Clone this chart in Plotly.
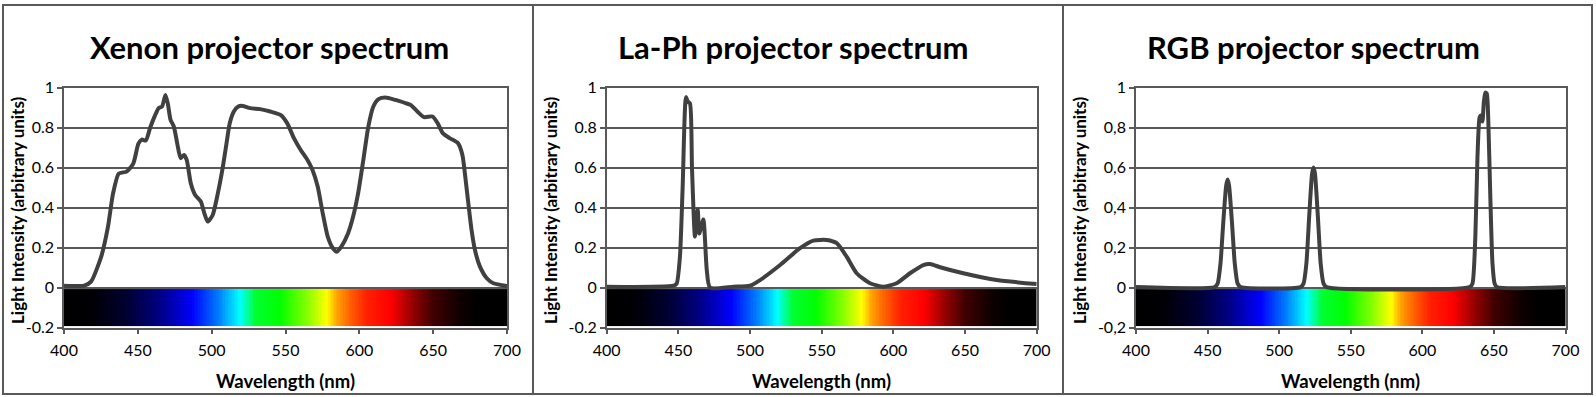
import numpy as np
import plotly.graph_objects as go

W, H = 1596, 397

# ---------------- data ----------------
xenon_nm = [400, 413.7, 418.3, 425.2, 429.8, 433.2, 437.1, 442.4, 446.9, 450.4, 452.7, 455.4, 458.4,
            461.8, 464.1, 466.4, 468.7, 470.3, 472.1, 474.4, 476.7, 479.0, 481.3, 483.1, 485.9, 488.8,
            492.7, 495.0, 497.3, 500.7, 504.2, 507.6, 510.4, 512.2, 515.0, 518.0, 521.0, 526.0, 532.8,
            539.7, 546.6, 551.1, 555.7, 560.3, 564.9, 568.3, 571.8, 575.2, 578.6, 582.1, 584.8, 587.8,
            592.4, 595.8, 599.2, 602.7, 606.1, 609.5, 613.0, 617.6, 624.4, 631.3, 634.7, 639.3, 643.8,
            649.6, 653.0, 656.5, 661.1, 666.8, 669.8, 672.5, 676.0, 678.3, 681.7, 686.3, 690.8, 700]
xenon_val = [0.01, 0.01, 0.03, 0.155, 0.305, 0.47, 0.57, 0.58, 0.62, 0.72, 0.74, 0.735, 0.80,
             0.863, 0.897, 0.905, 0.963, 0.92, 0.84, 0.805, 0.72, 0.647, 0.663, 0.638, 0.52, 0.463,
             0.43, 0.372, 0.33, 0.363, 0.472, 0.605, 0.738, 0.82, 0.88, 0.905, 0.908, 0.897, 0.892,
             0.88, 0.863, 0.822, 0.747, 0.688, 0.638, 0.588, 0.505, 0.372, 0.255, 0.197, 0.18, 0.205,
             0.272, 0.355, 0.472, 0.638, 0.805, 0.905, 0.942, 0.95, 0.938, 0.922, 0.913, 0.88, 0.852,
             0.855, 0.822, 0.772, 0.747, 0.722, 0.663, 0.505, 0.288, 0.188, 0.105, 0.047, 0.022, 0.008]

laph_nm = [400, 446.7, 448.8, 451.1, 453.0, 455.3, 456.5, 458.1, 459.5, 461.6, 463.5, 464.6, 467.4,
           469.8, 472.1, 488.4, 500.0, 507.0, 521.0, 534.9, 544.2, 553.5, 560.5, 567.4, 574.4, 583.7,
           593.0, 602.3, 611.6, 620.9, 625.6, 632.6, 648.8, 672.1, 700]
laph_val = [0.004, 0.01, 0.02, 0.155, 0.505, 0.952, 0.93, 0.92, 0.6, 0.255, 0.39, 0.27, 0.34,
            0.09, 0.0, 0.005, 0.01, 0.038, 0.113, 0.197, 0.235, 0.238, 0.222, 0.155, 0.072, 0.022,
            0.005, 0.022, 0.072, 0.113, 0.118, 0.102, 0.072, 0.038, 0.018]

rgb_nm = [400, 455, 457, 459, 461, 463, 464, 465, 467, 469, 471, 473,
          515, 517, 519, 521, 523, 524, 525, 527, 529, 531, 533,
          633, 635, 637, 638.5, 640, 641, 642, 643, 644, 645, 646, 647.5, 649, 650.5, 652, 700]
rgb_val = [0.003, 0.003, 0.02, 0.12, 0.33, 0.51, 0.54, 0.51, 0.33, 0.12, 0.02, 0.003,
           0.003, 0.02, 0.12, 0.36, 0.57, 0.60, 0.57, 0.36, 0.12, 0.02, 0.003,
           0.003, 0.02, 0.25, 0.65, 0.85, 0.86, 0.83, 0.93, 0.975, 0.97, 0.85, 0.45, 0.12, 0.02, 0.003, 0.003]

titles = ["Xenon projector spectrum", "La-Ph projector spectrum", "RGB projector spectrum"]
x_ticks = [400, 450, 500, 550, 600, 650, 700]
y_ticks = [-0.2, 0, 0.2, 0.4, 0.6, 0.8, 1]
y_ticktext_dot = ["-0.2", "0", "0.2", "0.4", "0.6", "0.8", "1"]
y_ticktext_comma = ["-0,2", "0", "0,2", "0,4", "0,6", "0,8", "1"]
x_label = "Wavelength (nm)"
y_label = "Light Intensity (arbitrary units)"

# visible-spectrum strip (wavelength -> colour)
strip_nm = [400, 419, 442, 464, 487, 505, 519, 530, 546, 564, 578, 585, 594, 605, 621, 637, 650, 668, 680, 700]
strip_col = ["#000000", "#000005", "#000030", "#000080", "#0000ff", "#0080ff", "#00ffff", "#00ff30",
             "#00ff00", "#80ff00", "#ffff00", "#ffa000", "#ff6000", "#ff2000", "#ff0000", "#900000",
             "#400000", "#100000", "#000000", "#000000"]
strip_top, strip_bottom = -0.007, -0.192

# ---------------- layout geometry (pixels) ----------------
plot_x = [(64, 507), (606.7, 1036.7), (1136, 1565.5)]
plot_y = (87.5, 327.7)
title_x = [269, 793, 1313]
ytitle_x = [17, 550, 1079]


def px(x):
    return x / W


def py(y):
    return 1 - y / H


colorscale = [[(n - 400) / 300, c] for n, c in zip(strip_nm, strip_col)]
edges = np.arange(400, 700.5, 1.0)
centers = (edges[:-1] + edges[1:]) / 2

fig = go.Figure()
series = [(xenon_nm, xenon_val), (laph_nm, laph_val), (rgb_nm, rgb_val)]
FONT = "Lato"

for i, (xs, ys) in enumerate(series):
    sfx = "" if i == 0 else str(i + 1)
    fig.add_trace(go.Heatmap(x=edges, y=[strip_bottom, strip_top], z=[centers], zmin=400, zmax=700,
                             colorscale=colorscale, showscale=False, hoverinfo="skip",
                             xaxis="x" + sfx, yaxis="y" + sfx))
    fig.add_trace(go.Scatter(x=xs, y=ys, mode="lines",
                             line=dict(color="#404040", width=4, shape="spline", smoothing=0.6),
                             hoverinfo="skip", showlegend=False,
                             xaxis="x" + sfx, yaxis="y" + sfx))
    x0, x1 = plot_x[i]
    axis_common = dict(showline=True, mirror=True, linecolor="#595959", linewidth=1.5,
                       ticks="outside", ticklen=5, tickcolor="#595959", tickwidth=1.5,
                       tickfont=dict(family=FONT, size=16, color="#000000"), zeroline=False,
                       fixedrange=True, automargin=False)
    fig.update_layout(**{
        "xaxis" + sfx: dict(domain=[px(x0), px(x1)], range=[400, 700], tickvals=x_ticks,
                            showgrid=False, anchor="y" + sfx, ticklabelstandoff=2, **axis_common),
        "yaxis" + sfx: dict(domain=[py(plot_y[1]), py(plot_y[0])], range=[-0.2, 1], tickvals=y_ticks,
                            ticktext=y_ticktext_comma if i == 2 else y_ticktext_dot,
                            showgrid=True, gridcolor="#595959", gridwidth=1.5,
                            anchor="x" + sfx, **axis_common),
    })
    fig.add_annotation(text="<b>%s</b>" % titles[i], x=px(title_x[i]), y=py(47), xref="paper", yref="paper",
                       showarrow=False, xanchor="center", yanchor="middle",
                       font=dict(family=FONT, size=31, color="#000000"))
    fig.add_annotation(text="<b>%s</b>" % x_label, x=px((x0 + x1) / 2), y=py(381), xref="paper", yref="paper",
                       showarrow=False, xanchor="center", yanchor="middle",
                       font=dict(family=FONT, size=18.5, color="#000000"))
    fig.add_annotation(text="<b>%s</b>" % y_label, x=px(ytitle_x[i]), y=py(210), xref="paper", yref="paper",
                       showarrow=False, xanchor="center", yanchor="middle", textangle=-90,
                       font=dict(family=FONT, size=17, color="#000000"))

# frame and dividers
frame = dict(color="#595959", width=2)
fig.add_shape(type="rect", xref="paper", yref="paper", x0=px(3), x1=px(1592), y0=py(394), y1=py(5), line=frame)
for xd in (533, 1063):
    fig.add_shape(type="line", xref="paper", yref="paper", x0=px(xd), x1=px(xd), y0=py(394), y1=py(5), line=frame)

fig.update_layout(autosize=True, margin=dict(l=0, r=0, t=0, b=0, autoexpand=False), showlegend=False,
                  paper_bgcolor="#ffffff", plot_bgcolor="#ffffff", hovermode=False)

# the figure div is pinned to the page's top-left corner (ignoring the default body margin)
fig.write_html("out.html", config={"displayModeBar": False, "responsive": False},
               default_width="%dpx; position: absolute; left: 0px; top: 0px" % W,
               default_height="%dpx" % H)
